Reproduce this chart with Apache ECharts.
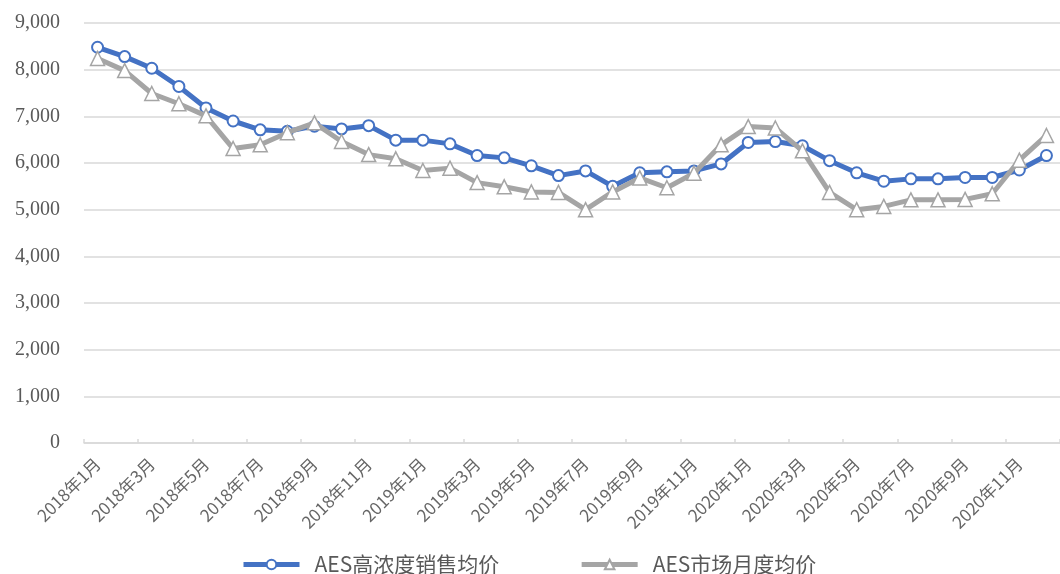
<!DOCTYPE html>
<html>
<head>
<meta charset="utf-8">
<script src="https://cdn.jsdelivr.net/npm/echarts@6/dist/echarts.min.js"></script>
<style>
html,body{margin:0;padding:0;background:#fff;}
#chart{width:1060px;height:574px;}
</style>
</head>
<body>
<div id="chart"></div>
<script>
const categories = [
  '2018年1月','2018年2月','2018年3月','2018年4月','2018年5月','2018年6月','2018年7月','2018年8月','2018年9月','2018年10月','2018年11月','2018年12月',
  '2019年1月','2019年2月','2019年3月','2019年4月','2019年5月','2019年6月','2019年7月','2019年8月','2019年9月','2019年10月','2019年11月','2019年12月',
  '2020年1月','2020年2月','2020年3月','2020年4月','2020年5月','2020年6月','2020年7月','2020年8月','2020年9月','2020年10月','2020年11月','2020年12月'
];
const seriesNames = ['AES高浓度销售均价', 'AES市场月度均价'];
const highConcPrice = [8480, 8280, 8030, 7640, 7180, 6900, 6710, 6680, 6790, 6730, 6800, 6490,
  6490, 6410, 6160, 6110, 5940, 5730, 5830, 5500, 5790, 5810, 5830, 5980,
  6440, 6460, 6370, 6050, 5790, 5610, 5660, 5660, 5690, 5690, 5850, 6160];
const marketPrice = [8240, 7980, 7490, 7270, 7010, 6310, 6390, 6650, 6860, 6460, 6180, 6090,
  5840, 5890, 5580, 5490, 5380, 5370, 5000, 5380, 5680, 5470, 5780, 6390,
  6780, 6750, 6260, 5370, 5000, 5070, 5210, 5210, 5220, 5340, 6060, 6590];
const yMin = 0, yMax = 9000, yStep = 1000;

const chart = echarts.init(document.getElementById('chart'));
chart.setOption({
  animation: false,
  backgroundColor: '#ffffff',
  grid: { left: 84, top: 23, width: 986, height: 420, containLabel: false },
  legend: {
    left: 236, top: 549,
    itemWidth: 56, itemHeight: 12, itemGap: 80,
    lineStyle: { width: 5 },
    textStyle: { fontFamily: 'Noto Sans CJK SC', fontSize: 21, color: '#595959', padding: [0, 0, 0, 10] },
    data: seriesNames
  },
  xAxis: {
    type: 'category',
    data: categories,
    boundaryGap: true,
    axisLine: { lineStyle: { color: '#D9D9D9', width: 1.5 } },
    axisTick: { show: true, inside: true, length: 4, interval: 1, lineStyle: { color: '#D9D9D9', width: 1.5 } },
    axisLabel: { interval: 1, rotate: 45, margin: 18, fontFamily: 'Noto Sans CJK SC', fontSize: 17, color: '#666666' },
    splitLine: { show: false }
  },
  yAxis: {
    type: 'value',
    min: yMin, max: yMax, interval: yStep,
    axisLine: { show: false },
    axisTick: { show: false },
    axisLabel: {
      margin: 24, fontFamily: 'Liberation Serif', fontSize: 20, color: '#595959',
      formatter: v => v.toLocaleString('en-US')
    },
    splitLine: { lineStyle: { color: '#D9D9D9', width: 1.5 } }
  },
  series: [
    {
      name: seriesNames[0], type: 'line', data: highConcPrice,
      symbol: 'circle', symbolSize: 11, showAllSymbol: true,
      lineStyle: { color: '#4472C4', width: 5 },
      itemStyle: { color: '#ffffff', borderColor: '#4472C4', borderWidth: 2 },
      z: 2
    },
    {
      name: seriesNames[1], type: 'line', data: marketPrice,
      symbol: 'triangle', symbolSize: 14, showAllSymbol: true,
      lineStyle: { color: '#A5A5A5', width: 5 },
      itemStyle: { color: '#ffffff', borderColor: '#A5A5A5', borderWidth: 1.5 },
      z: 3
    }
  ]
});
</script>
</body>
</html>
